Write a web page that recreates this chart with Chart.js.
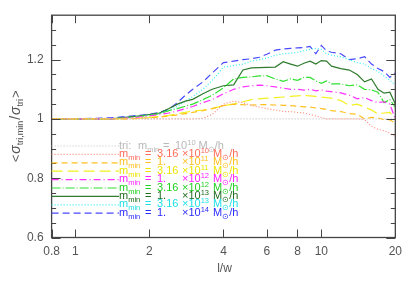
<!DOCTYPE html>
<html>
<head>
<meta charset="utf-8">
<script src="https://cdn.jsdelivr.net/npm/chart.js@4.4.1/dist/chart.umd.min.js"></script>
<style>
  html, body { margin: 0; padding: 0; background: #fff; }
</style>
</head>
<body>
<canvas id="c" width="409" height="282"></canvas>
<script>
(() => {
  "use strict";

  // ---------- data ----------
  const lw = [0.8, 1, 1.2, 1.4, 1.6, 1.8, 2, 2.2, 2.4, 2.6, 2.8, 3, 3.3, 3.6, 4, 4.4, 4.8, 5.2, 5.6, 6,
              6.5, 7, 7.5, 8, 8.5, 9, 9.5, 10, 10.5, 11, 12, 13, 14, 15, 16, 17, 18, 19, 20];

  const triRef  = [1, 1, 1, 1, 1, 1, 1, 1, 1, 1, 1, 1, 1, 1, 1, 1, 1, 1, 1, 1,
                   1, 1, 1, 1, 1, 1, 1, 1, 1, 1, 1, 1, 1, 1, 1, 1, 1, 1, 1];
  const m316e10 = [1, 1, 1, 1, 1, 1, 1, 1, 1, 1, 1, 1, 1.002, 1.015, 1.05, 1.06, 1.055, 1.045, 1.04, 1.035,
                   1.03, 1.025, 1.025, 1.022, 1.02, 1.015, 1.01, 1.005, 1.0, 1.0, 1.0, 1.0, 1.0, 0.998, 0.975, 0.965, 0.96, 0.952, 0.94];
  const m1e11   = [1, 1, 1, 1, 1, 1.002, 1.004, 1.006, 1.01, 1.014, 1.018, 1.022, 1.028, 1.035, 1.045, 1.05, 1.048, 1.047, 1.048, 1.048,
                   1.047, 1.046, 1.045, 1.043, 1.041, 1.04, 1.037, 1.035, 1.032, 1.028, 1.025, 1.018, 1.016, 1.0, 1.005, 1.003, 0.998, 0.997, 0.985];
  const m316e11 = [1, 1, 1, 1, 1, 1.002, 1.005, 1.008, 1.012, 1.018, 1.022, 1.027, 1.03, 1.035, 1.045, 1.05, 1.058, 1.065, 1.068, 1.07,
                   1.072, 1.074, 1.076, 1.078, 1.079, 1.078, 1.076, 1.074, 1.072, 1.07, 1.062, 1.045, 1.05, 1.04, 1.03, 1.017, 1.02, 1.022, 1.0];
  const m1e12   = [1, 1, 1, 1, 1.003, 1.006, 1.01, 1.015, 1.02, 1.027, 1.035, 1.042, 1.055, 1.065, 1.085, 1.1, 1.108, 1.112, 1.114, 1.112,
                   1.108, 1.104, 1.1, 1.1, 1.097, 1.1, 1.095, 1.098, 1.094, 1.092, 1.088, 1.08, 1.068, 1.072, 1.062, 1.055, 1.058, 1.05, 1.0];
  const m316e12 = [1, 1, 1, 1, 1.004, 1.008, 1.012, 1.018, 1.028, 1.035, 1.043, 1.05, 1.065, 1.08, 1.105, 1.135, 1.14, 1.142, 1.145, 1.146,
                   1.135, 1.127, 1.135, 1.13, 1.14, 1.14, 1.128, 1.12, 1.128, 1.118, 1.118, 1.112, 1.115, 1.1, 1.098, 1.09, 1.055, 1.065, 1.04];
  const m1e13   = [1, 1, 1, 1, 1.005, 1.01, 1.015, 1.02, 1.035, 1.05, 1.06, 1.066, 1.085, 1.1, 1.112, 1.115, 1.165, 1.172, 1.173, 1.174,
                   1.175, 1.193, 1.185, 1.178, 1.188, 1.195, 1.185, 1.197, 1.195, 1.178, 1.17, 1.165, 1.15, 1.125, 1.135, 1.1, 1.087, 1.09, 1.05];
  const m316e13 = [1, 1, 1, 1, 1.006, 1.01, 1.014, 1.02, 1.03, 1.042, 1.06, 1.075, 1.1, 1.13, 1.175, 1.18, 1.185, 1.195, 1.2, 1.205,
                   1.215, 1.22, 1.222, 1.225, 1.23, 1.235, 1.238, 1.235, 1.22, 1.215, 1.21, 1.2, 1.19, 1.185, 1.17, 1.16, 1.145, 1.13, 1.115];
  const m1e14   = [1, 1, 1.002, 1.004, 1.008, 1.012, 1.016, 1.022, 1.033, 1.055, 1.08, 1.1, 1.125, 1.155, 1.19, 1.195, 1.2, 1.203, 1.208, 1.218,
                   1.232, 1.236, 1.238, 1.24, 1.241, 1.245, 1.22, 1.248, 1.23, 1.225, 1.22, 1.2, 1.203, 1.21, 1.185, 1.17, 1.16, 1.14, 1.155];

  const legendMant = ["3.16", "1.", "3.16", "1.", "3.16", "1.", "3.16", "1."];
  const legendExp  = ["10", "11", "11", "12", "12", "13", "13", "14"];

  const xTicks = [0.8, 1, 2, 4, 6, 8, 10, 20];
  const yTicks = [0.6, 0.8, 1, 1.2];
  const yMinor = [0.65, 0.7, 0.75, 0.85, 0.9, 0.95, 1.05, 1.1, 1.15, 1.25, 1.3];

  // ---------- styles ----------
  const AXIS = "#444";
  const FONT = "'Liberation Sans', Arial, sans-serif";
  const styles = [
    { data: triRef,  color: "#c4c4c4", text: "#b8b8b8", dash: [1, 2] },
    { data: m316e10, color: "#ff8a78", text: "#ff6a5a", dash: [1, 2] },
    { data: m1e11,   color: "#ffc020", text: "#ffc020", dash: [6, 4] },
    { data: m316e11, color: "#f4f020", text: "#ece400", dash: [11, 5] },
    { data: m1e12,   color: "#ff30ff", text: "#ff20ff", dash: [7, 3, 1, 3] },
    { data: m316e12, color: "#30e030", text: "#20d020", dash: [9, 2, 1, 2] },
    { data: m1e13,   color: "#2e7a2e", text: "#1e6a1e", dash: [] },
    { data: m316e13, color: "#30f0f0", text: "#20e0e8", dash: [1, 2] },
    { data: m1e14,   color: "#4848ff", text: "#2a2aff", dash: [7, 4] },
  ];

  // ---------- helpers ----------
  // draws text pieces left to right; "at" pins a piece to x + at
  function rich(ctx, parts, x, y) {
    let cx = x;
    ctx.textAlign = "left";
    ctx.textBaseline = "alphabetic";
    for (const p of parts) {
      ctx.font = `${p.it ? "italic " : ""}${p.size}px ${FONT}`;
      if (p.at != null) cx = x + p.at;
      ctx.fillText(p.t, cx, y + (p.dy || 0));
      cx += ctx.measureText(p.t).width + (p.gap || 0);
    }
    return cx - x;
  }

  function seg(ctx, x1, y1, x2, y2) {
    ctx.beginPath(); ctx.moveTo(x1, y1); ctx.lineTo(x2, y2); ctx.stroke();
  }

  // ---------- frame, ticks, titles, legend ----------
  const decor = {
    id: "decor",
    afterDraw(chart) {
      const { ctx, chartArea: a, scales: { x, y } } = chart;
      ctx.save();
      ctx.strokeStyle = AXIS;
      ctx.lineWidth = 1.3;
      ctx.setLineDash([]);
      ctx.strokeRect(a.left, a.top, a.right - a.left, a.bottom - a.top);

      ctx.lineWidth = 1;
      xTicks.forEach(v => {
        const px = Math.round(x.getPixelForValue(v)) + 0.5;
        seg(ctx, px, a.bottom, px, a.bottom - 8);
        seg(ctx, px, a.top, px, a.top + 8);
      });
      yTicks.forEach(v => {
        const py = Math.round(y.getPixelForValue(v)) + 0.5;
        seg(ctx, a.left, py, a.left + 9, py);
        seg(ctx, a.right, py, a.right - 9, py);
      });
      yMinor.forEach(v => {
        const py = Math.round(y.getPixelForValue(v)) + 0.5;
        seg(ctx, a.left, py, a.left + 4.5, py);
        seg(ctx, a.right, py, a.right - 4.5, py);
      });

      // x title
      ctx.fillStyle = "#555";
      ctx.font = `12px ${FONT}`;
      const tw = ctx.measureText("l/w").width;
      rich(ctx, [{ t: "l/w", size: 12 }], (a.left + a.right) / 2 + 1 - tw / 2, 272);

      // y title (rotated)
      ctx.save();
      ctx.translate(20, (a.top + a.bottom) / 2);
      ctx.rotate(-Math.PI / 2);
      const yParts = [
        { t: "<", size: 13, gap: 1 },
        { t: "σ", size: 14, it: true },
        { t: "tri,min", size: 9, dy: 3, gap: 1 },
        { t: "/", size: 14, gap: 1 },
        { t: "σ", size: 14, it: true },
        { t: "tri", size: 9, dy: 3, gap: 1 },
        { t: ">", size: 13 },
      ];
      ctx.globalAlpha = 0;
      const w = rich(ctx, yParts, 0, 0);
      ctx.globalAlpha = 1;
      rich(ctx, yParts, -w / 2, 0);
      ctx.restore();

      // legend
      const x0 = a.left, x1 = 119, tx = 119;
      const rowY = [146, 154.4, 162.8, 171.2, 179.6, 188, 196.4, 204.8, 213.2];
      const F = 11, S = 7.5;
      styles.forEach((s, i) => {
        const ly = rowY[i];
        ctx.strokeStyle = s.color;
        ctx.lineWidth = 1.2;
        ctx.setLineDash(s.dash);
        seg(ctx, x0, ly, x1, ly);
        ctx.setLineDash([]);
        ctx.fillStyle = s.text;
        const by = ly + 2.5;
        if (i === 0) {
          rich(ctx, [
            { t: "tri:", size: F, at: 0 },
            { t: "m", size: F, at: 19 },
            { t: "min", size: S, dy: 3 },
            { t: "=", size: F, at: 44 },
            { t: "10", size: F, at: 56 },
            { t: "10", size: S, dy: -4, gap: 3 },
            { t: "M", size: F },
            { t: "⊙", size: S, dy: 3 },
            { t: "/h", size: F },
          ], tx, by);
        } else {
          rich(ctx, [
            { t: "m", size: F, at: 0 },
            { t: "min", size: S, dy: 3 },
            { t: "=", size: F, at: 26 },
            { t: legendMant[i - 1], size: F, at: 38 },
            { t: "×10", size: F, at: 63 },
            { t: legendExp[i - 1], size: S, dy: -4, gap: 3 },
            { t: "M", size: F, at: 94 },
            { t: "⊙", size: S, dy: 3 },
            { t: "/h", size: F },
          ], tx, by);
        }
      });
      ctx.restore();
    }
  };

  // ---------- chart ----------
  const datasets = styles.map(s => ({
    data: lw.map((v, i) => ({ x: v, y: s.data[i] })),
    borderColor: s.color,
    borderWidth: 1.2,
    borderDash: s.dash,
    showLine: true,
    pointRadius: 0,
    tension: 0,
    fill: false,
  }));

  new Chart(document.getElementById("c"), {
    type: "scatter",
    data: { datasets },
    options: {
      responsive: false,
      devicePixelRatio: 1,
      animation: false,
      layout: { padding: { top: 8, right: 9, left: 0, bottom: 0 } },
      plugins: { legend: { display: false }, tooltip: { enabled: false } },
      scales: {
        x: {
          type: "logarithmic",
          min: 0.8, max: 20,
          afterBuildTicks: s => { s.ticks = xTicks.map(v => ({ value: v })); },
          afterFit: s => { s.height = 44.5; },
          grid: { display: false, drawTicks: false },
          border: { display: false },
          ticks: {
            autoSkip: false, maxRotation: 0, padding: 7,
            color: "#555", font: { family: FONT, size: 12 },
            callback: v => String(v),
          },
        },
        y: {
          min: 0.6, max: 1.35,
          afterBuildTicks: s => { s.ticks = yTicks.map(v => ({ value: v })); },
          afterFit: s => { s.width = 51.6; },
          grid: { display: false, drawTicks: false },
          border: { display: false },
          ticks: {
            padding: 8,
            color: "#555", font: { family: FONT, size: 12 },
            callback: v => String(v),
          },
        },
      },
    },
    plugins: [decor],
  });
})();
</script>
</body>
</html>
